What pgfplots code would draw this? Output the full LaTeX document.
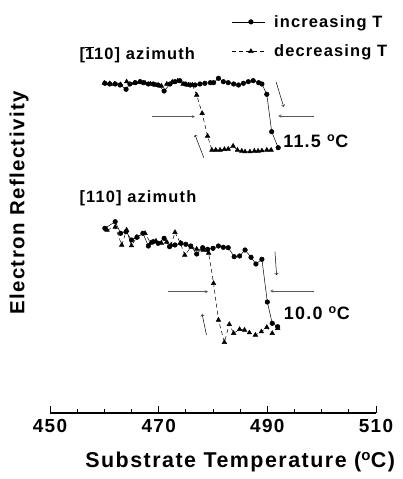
\documentclass[border=0pt]{standalone}
\usepackage{fontspec}
\setmainfont{Liberation Sans}[LetterSpace=7]
\usepackage{pgfplots}
\pgfplotsset{compat=1.18}
\begin{document}
\begin{tikzpicture}[x=1bp,y=1bp]
\path[use as bounding box] (-50,-66) rectangle (352,413);
\begin{axis}[
  at={(0,0)}, anchor=south west,
  scale only axis, width=326bp, height=353bp,
  xmin=450, xmax=510, ymin=0, ymax=353,
  axis x line=bottom, axis y line=none,
  x axis line style={-, line width=1.1bp},
  xtick={450,470,490,510},
  minor xtick={455,460,465,475,480,485,495,500,505},
  tick align=inside,
  major tick length=7bp, minor tick length=3.5bp,
  every tick/.style={black, line width=1bp},
  every minor tick/.style={black, line width=0.9bp},
  clip=false,
  ticklabel style={font=\fontsize{19}{19}\selectfont\bfseries},
  xticklabel style={yshift=-3bp},
  /pgf/number format/assume math mode=true,
  /pgf/number format/1000 sep={},
  legend style={at={(axis cs:483.4,400)}, anchor=north west, draw=none, fill=none,
    font=\fontsize{16.5}{16.5}\selectfont\bfseries, row sep=12bp, inner sep=0pt,
    cells={anchor=west},
    /tikz/every odd column/.append style={column sep=7bp}},
  legend cell align=left,
  legend image code/.code={%
    \draw[#1, mark=none] (0bp,0bp) -- (33bp,0bp);
    \path[#1, only marks] plot coordinates {(19bp,0bp)};},
]
% upper, increasing T
\addplot[black, line width=0.5bp, mark=*, mark size=2.3bp] coordinates {
(460.1,329.7) (461.0,329.0) (462.0,329.0) (462.9,328.0) (464.0,323.7)
(464.7,329.0) (465.7,330.3) (466.6,331.3) (467.2,330.3) (468.1,329.0)
(469.0,329.0) (469.9,328.0) (471.0,322.0) (472.1,329.0) (473.0,331.3)
(473.9,332.3) (474.9,329.0) (475.8,328.0) (476.7,328.0) (477.6,329.0)
(478.5,329.7) (479.5,330.3) (480.1,330.3) (481.0,334.7) (481.9,331.3)
(482.8,330.3) (483.8,329.0) (484.7,328.0) (485.6,329.7) (486.5,331.3)
(487.4,332.3) (488.4,330.3) (489.0,329.0) (489.9,318.7) (490.8,281.3)
(492.0,265.3)};
% upper, decreasing T
\addplot[black, line width=0.5bp, dash pattern=on 4bp off 3bp, mark=triangle*, mark size=2.6bp, mark options={solid}] coordinates {
(460.0,330.0) (461.0,329.5) (461.9,329.0) (463.0,328.5) (464.1,331.3)
(465.5,330.0) (466.5,331.0) (467.5,330.0) (468.5,329.0) (469.5,328.0)
(470.5,327.0) (471.5,329.0) (472.5,331.0) (473.5,332.0) (474.5,329.0)
(475.5,328.0) (476.2,328.0) (477.0,318.0) (478.0,299.7) (479.0,277.0)
(479.8,263.0) (480.5,263.0) (481.3,263.0) (482.1,263.7) (482.8,264.0)
(483.7,267.0) (484.5,263.0) (485.3,262.0) (485.9,261.3) (486.8,261.3)
(487.6,262.0) (488.3,262.0) (489.0,262.3) (489.9,263.0) (490.7,263.0)};
% lower, increasing T
\addplot[black, line width=0.5bp, mark=*, mark size=2.3bp] coordinates {
(460.1,184.7) (462.0,191.3) (463.0,179.7) (464.0,181.3) (465.0,173.0)
(466.0,175.7) (467.1,179.7) (468.1,167.0) (469.0,171.3) (469.9,169.7)
(471.0,174.7) (472.0,166.3) (473.0,168.0) (474.1,169.7) (475.0,168.7)
(475.9,167.0) (477.0,159.0) (478.1,165.3) (479.0,163.7) (480.0,164.7)
(481.0,167.0) (481.9,165.7) (482.8,165.3) (483.9,156.3) (484.9,157.0)
(485.9,163.0) (487.0,155.7) (487.9,149.0) (489.0,153.7) (490.0,111.0)
(490.9,89.7) (491.9,86.3)};
% lower, decreasing T
\addplot[black, line width=0.5bp, dash pattern=on 4bp off 3bp, mark=triangle*, mark size=2.6bp, mark options={solid}] coordinates {
(460.5,183.0) (462.0,186.0) (463.2,168.0) (464.1,183.0) (465.0,167.3)
(466.0,176.0) (467.5,179.7) (468.5,170.0) (469.5,172.0) (470.5,170.0)
(471.5,171.0) (472.3,168.0) (473.0,180.7) (474.0,170.0) (474.8,158.0)
(476.0,166.0) (477.0,164.0) (478.2,163.0) (479.2,160.0) (480.1,129.7)
(481.0,93.0) (482.1,70.7) (483.0,88.7) (483.8,79.7) (484.9,83.7)
(485.8,83.0) (486.7,80.3) (487.8,78.0) (488.9,81.3) (489.9,85.7)
(490.9,79.7) (491.9,84.7)};
\legend{increasing T, decreasing T}

% annotations: upper
\draw[-stealth, line width=0.5bp, gray!70!black] (axis cs:468.7,296.3) -- (axis cs:476.7,296.3);
\draw[-stealth, line width=0.5bp, gray!70!black] (axis cs:498.5,297) -- (axis cs:492.0,297);
\draw[-to, line width=0.5bp] (axis cs:491.6,331.3) -- (axis cs:493.0,306.3);
\draw[-to, line width=0.5bp] (axis cs:478.3,255.3) -- (axis cs:476.7,278);
% annotations: lower
\draw[-stealth, line width=0.5bp, gray!70!black] (axis cs:471.8,121.3) -- (axis cs:479.1,121.3);
\draw[-stealth, line width=0.5bp, gray!70!black] (axis cs:498.5,122) -- (axis cs:490.5,122);
\draw[-to, line width=0.5bp] (axis cs:491.4,161.3) -- (axis cs:491.7,138);
\draw[-to, line width=0.5bp] (axis cs:478.8,78) -- (axis cs:478.0,98.7);

% labels
\node[anchor=west, inner sep=0pt, font=\fontsize{16.5}{16.5}\selectfont\bfseries] at (axis cs:455.4,358) {[$\overline{\mbox{1}}$10] azimuth};
\node[anchor=west, inner sep=0pt, font=\fontsize{16.5}{16.5}\selectfont\bfseries] at (axis cs:455.4,215) {[110] azimuth};
\node[anchor=west, inner sep=0pt, font=\fontsize{18}{18}\selectfont\bfseries] at (axis cs:492.9,272) {11.5 \textsuperscript{o}C};
\node[anchor=west, inner sep=0pt, font=\fontsize{18}{18}\selectfont\bfseries] at (axis cs:493.0,100) {10.0 \textsuperscript{o}C};
\node[font=\fontsize{21.5}{21.5}\selectfont\bfseries] at (axis cs:485.0,-49) {Substrate Temperature (\textsuperscript{o}C)};
\node[rotate=90, font=\fontsize{20.5}{20.5}\selectfont\bfseries] at (axis cs:444.3,210) {Electron Reflectivity};
\end{axis}
\end{tikzpicture}
\end{document}
